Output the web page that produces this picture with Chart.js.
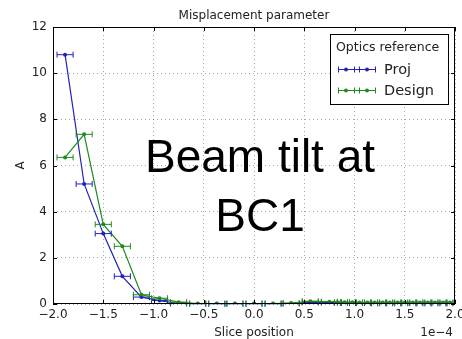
<!DOCTYPE html>
<html lang="en">
<head>
<meta charset="UTF-8">
<title>Misplacement parameter</title>
<script src="https://cdn.jsdelivr.net/npm/chart.js@4/dist/chart.umd.min.js"></script>
<style>
  html, body { margin: 0; padding: 0; background: #fff; }
  #wrap { width: 462px; height: 339px; }
</style>
</head>
<body>
<div id="wrap"><canvas id="chart" width="462" height="339"></canvas></div>
<script>
// slice position (units of 1e-4) and misplacement amplitude A
const slicePos = [-1.88, -1.69, -1.50, -1.31, -1.12, -0.94, -0.75, -0.56, -0.37, -0.19,
                  0.00, 0.19, 0.37, 0.56, 0.75, 0.83, 0.90, 0.98, 1.05, 1.13,
                  1.20, 1.28, 1.35, 1.43, 1.50, 1.58, 1.65, 1.73, 1.80, 1.88, 1.95];
const sliceErr = [0.08, 0.08, 0.08, 0.08, 0.08, 0.08, 0.08, 0.08, 0.08, 0.08,
                  0.08, 0.08, 0.08, 0.08, 0.08, 0.03, 0.03, 0.03, 0.03, 0.03,
                  0.03, 0.03, 0.03, 0.03, 0.03, 0.03, 0.03, 0.03, 0.03, 0.03, 0.03];
const projA = [10.8, 5.2, 3.05, 1.2, 0.3, 0.15, 0.02, 0.01, 0.01, 0.01,
               0.01, 0.01, 0.02, 0.07, 0.06, 0.05, 0.05, 0.04, 0.04, 0.04,
               0.03, 0.03, 0.03, 0.03, 0.03, 0.03, 0.03, 0.03, 0.03, 0.03, 0.03];
const designA = [6.35, 7.35, 3.45, 2.5, 0.4, 0.25, 0.08, 0.02, 0.02, 0.02,
                 0.02, 0.02, 0.04, 0.12, 0.10, 0.08, 0.08, 0.08, 0.07, 0.07,
                 0.07, 0.07, 0.07, 0.07, 0.07, 0.07, 0.07, 0.07, 0.07, 0.07, 0.07];
const xTicks = [-2.0, -1.5, -1.0, -0.5, 0.0, 0.5, 1.0, 1.5, 2.0];
const yTicks = [0, 2, 4, 6, 8, 10, 12];

const BLUE = '#2323b8';
const GREEN = '#1e8a1e';
const FONT = '"DejaVu Sans", sans-serif';

function pts(ys) {
  return slicePos.map((x, i) => ({ x: x, y: ys[i], err: sliceErr[i] }));
}

function minus(v, d) {
  return (v < 0 ? '\u2212' : '') + Math.abs(v).toFixed(d);
}

// horizontal error bars, drawn through the chart scales
const errorBars = {
  id: 'errorBars',
  afterDatasetsDraw(chart) {
    const ctx = chart.ctx, xs = chart.scales.x, ys = chart.scales.y;
    chart.data.datasets.forEach(ds => {
      ctx.save();
      ctx.strokeStyle = ds.borderColor;
      ctx.lineWidth = 1;
      ds.data.forEach(p => {
        const y = ys.getPixelForValue(p.y);
        const x0 = xs.getPixelForValue(p.x - p.err);
        const x1 = xs.getPixelForValue(p.x + p.err);
        ctx.beginPath();
        ctx.moveTo(x0, y); ctx.lineTo(x1, y);
        ctx.moveTo(x0, y - 3); ctx.lineTo(x0, y + 3);
        ctx.moveTo(x1, y - 3); ctx.lineTo(x1, y + 3);
        ctx.stroke();
      });
      ctx.restore();
    });
  }
};

const decor = {
  id: 'decor',
  beforeDraw(chart) {
    const ctx = chart.ctx;
    ctx.save();
    ctx.fillStyle = '#fff';
    ctx.fillRect(0, 0, chart.width, chart.height);
    ctx.restore();
  },
  afterDraw(chart) {
    const ctx = chart.ctx, a = chart.chartArea;
    const xs = chart.scales.x, ys = chart.scales.y;
    ctx.save();
    // frame
    ctx.strokeStyle = '#000';
    ctx.lineWidth = 1;
    ctx.strokeRect(Math.round(a.left) + 0.5, Math.round(a.top) + 0.5,
                   Math.round(a.right - a.left) - 1, Math.round(a.bottom - a.top) - 1);
    // inward ticks on all sides
    ctx.beginPath();
    xTicks.forEach(v => {
      const x = Math.round(xs.getPixelForValue(v)) + 0.5;
      ctx.moveTo(x, a.bottom); ctx.lineTo(x, a.bottom - 4);
      ctx.moveTo(x, a.top); ctx.lineTo(x, a.top + 4);
    });
    yTicks.forEach(v => {
      const y = Math.round(ys.getPixelForValue(v)) + 0.5;
      ctx.moveTo(a.left, y); ctx.lineTo(a.left + 4, y);
      ctx.moveTo(a.right, y); ctx.lineTo(a.right - 4, y);
    });
    ctx.stroke();

    // title and axis labels
    ctx.fillStyle = '#222';
    ctx.font = '12px ' + FONT;
    ctx.textAlign = 'center';
    ctx.textBaseline = 'alphabetic';
    ctx.fillText('Misplacement parameter', (a.left + a.right) / 2, 19);
    ctx.fillText('Slice position', (a.left + a.right) / 2, 336);
    ctx.textAlign = 'right';
    ctx.fillText('1e\u22124', 453, 336);
    ctx.save();
    ctx.translate(24, (a.top + a.bottom) / 2);
    ctx.rotate(-Math.PI / 2);
    ctx.textAlign = 'center';
    ctx.fillText('A', 0, 0);
    ctx.restore();

    // legend
    const lx = 330, ly = 34, lw = 118, lh = 70;
    ctx.fillStyle = '#fff';
    ctx.fillRect(lx, ly, lw, lh);
    ctx.strokeStyle = '#000';
    ctx.strokeRect(lx + 0.5, ly + 0.5, lw, lh);
    ctx.fillStyle = '#222';
    ctx.textAlign = 'left';
    ctx.font = '12.5px ' + FONT;
    ctx.fillText('Optics reference', 336, 51);
    const entries = [['Proj', BLUE, 69], ['Design', GREEN, 90]];
    entries.forEach(([label, col, y]) => {
      ctx.strokeStyle = col;
      ctx.fillStyle = col;
      ctx.beginPath();
      ctx.moveTo(338, y + 0.5); ctx.lineTo(375, y + 0.5);
      [338, 354, 359, 375].forEach(cx => { ctx.moveTo(cx + 0.5, y - 2.5); ctx.lineTo(cx + 0.5, y + 3.5); });
      ctx.stroke();
      [346, 367].forEach(cx => { ctx.beginPath(); ctx.arc(cx, y + 0.5, 2, 0, Math.PI * 2); ctx.fill(); });
      ctx.fillStyle = '#222';
      ctx.font = '14.5px ' + FONT;
      ctx.fillText(label, 384, y + 5);
    });

    // overlay annotation
    ctx.fillStyle = '#000';
    ctx.textAlign = 'center';
    ctx.font = '46px "Liberation Sans", Arial, sans-serif';
    ctx.fillText('Beam tilt at', 260, 172);
    ctx.fillText('BC1', 260, 231);
    ctx.restore();
  }
};

new Chart(document.getElementById('chart'), {
  type: 'scatter',
  data: {
    datasets: [
      { label: 'Proj', data: pts(projA), borderColor: BLUE, backgroundColor: BLUE,
        showLine: true, borderWidth: 1.2, pointRadius: 2, pointBorderWidth: 0, order: 1 },
      { label: 'Design', data: pts(designA), borderColor: GREEN, backgroundColor: GREEN,
        showLine: true, borderWidth: 1.2, pointRadius: 2, pointBorderWidth: 0, order: 0 }
    ]
  },
  plugins: [errorBars, decor],
  options: {
    responsive: false,
    animation: false,
    events: [],
    layout: { padding: { top: 27, right: 7, left: 0, bottom: 0 } },
    plugins: { legend: { display: false }, title: { display: false }, tooltip: { enabled: false } },
    scales: {
      x: {
        type: 'linear', min: -2, max: 2,
        afterBuildTicks: s => { s.ticks = xTicks.map(v => ({ value: v })); },
        afterFit: s => { s.height = 35; s.paddingLeft = 0; s.paddingRight = 0; },
        grid: { color: 'rgba(0,0,0,0.35)', lineWidth: 1, drawTicks: false },
        border: { display: false, dash: [1, 3] },
        ticks: { padding: 4, color: '#222', font: { family: FONT, size: 12 },
                 maxRotation: 0, autoSkip: false, callback: v => minus(v, 1) }
      },
      y: {
        type: 'linear', min: 0, max: 12,
        afterBuildTicks: s => { s.ticks = yTicks.map(v => ({ value: v })); },
        afterFit: s => { s.width = 53; s.paddingTop = 0; s.paddingBottom = 0; },
        grid: { color: 'rgba(0,0,0,0.35)', lineWidth: 1, drawTicks: false },
        border: { display: false, dash: [1, 3] },
        ticks: { padding: 6, color: '#222', font: { family: FONT, size: 12 },
                 callback: v => String(v) }
      }
    }
  }
});
</script>
</body>
</html>
